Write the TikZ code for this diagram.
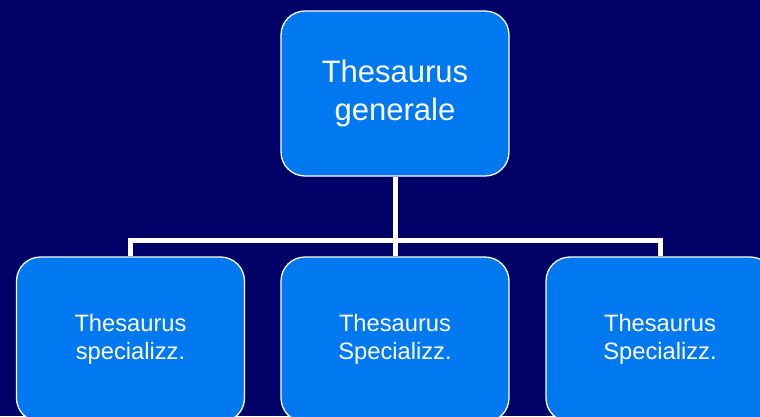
\documentclass[tikz,border=0pt]{standalone}
\usepackage{fontspec}
\setmainfont{Liberation Sans}
\definecolor{bg}{RGB}{0,0,102}
\definecolor{boxblue}{RGB}{0,120,240}
\begin{document}
\begin{tikzpicture}[x=1pt,y=-1pt,
  box/.style={draw=white, line width=1.3pt, fill=boxblue, rounded corners=24pt,
    minimum width=228pt, minimum height=165pt, text=white, align=center, inner sep=0pt},
  bigtext/.style={font=\fontsize{31}{38}\selectfont},
  smalltext/.style={font=\fontsize{23.7}{28}\selectfont},
  conn/.style={draw=white, line width=5pt, line join=miter}]
\useasboundingbox (0,0) rectangle (760,416);
\clip (0,0) rectangle (760,416);
\fill[bg] (0,0) rectangle (760,416);
\coordinate (bar) at (395,240);
\node[box, bigtext] (top) at (395,93.5) {Thesaurus\\generale};
\node[box, smalltext] (l) at (130.5,339.5) {Thesaurus\\specializz.};
\node[box, smalltext] (m) at (395,339.5) {Thesaurus\\Specializz.};
\node[box, smalltext] (r) at (660,339.5) {Thesaurus\\Specializz.};
\draw[conn] (top.south) -- (m.north);
\draw[conn] (l.north) -- (l.north |- bar) -- (r.north |- bar) -- (r.north);
\end{tikzpicture}
\end{document}
